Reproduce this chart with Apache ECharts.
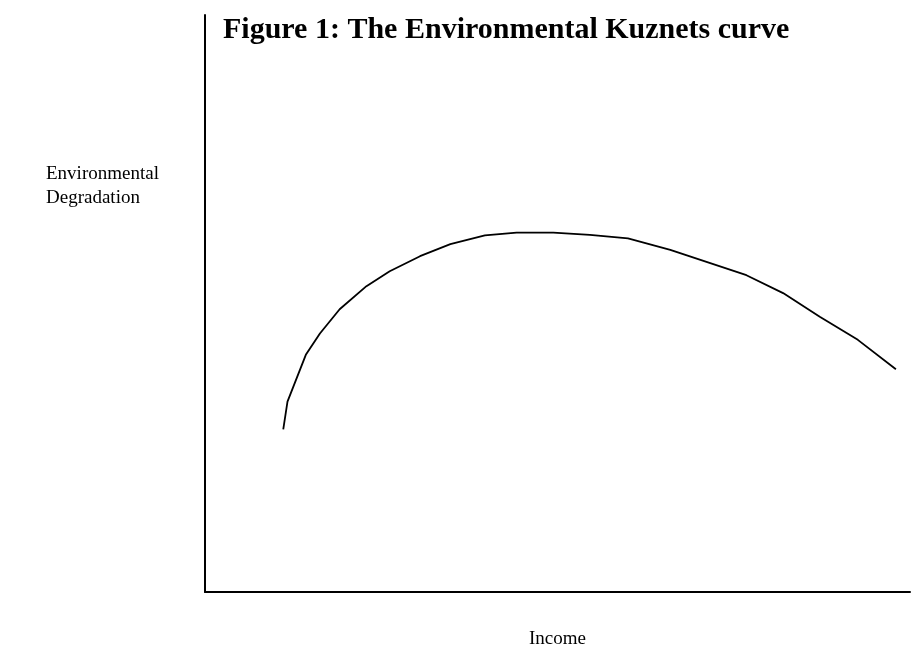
<!DOCTYPE html>
<html>
<head>
<meta charset="utf-8">
<script src="https://cdn.jsdelivr.net/npm/echarts@6/dist/echarts.min.js"></script>
<style>
  html, body { margin: 0; padding: 0; background: #fff; }
  #chart { width: 911px; height: 652px; }
</style>
</head>
<body>
<div id="chart"></div>
<script>
// income (x) and degradation (y), arbitrary 0-100 units
const income = [11.1, 11.7, 14.3, 16.3, 19.1, 22.9, 26.2, 30.5, 34.8, 39.7, 44.2, 49.4, 54.6, 60.0, 66.0, 76.8, 82.0, 87.2, 92.6, 98.0];
const degradation = [28.2, 33.0, 41.1, 44.8, 49.0, 53.0, 55.6, 58.2, 60.3, 61.8, 62.3, 62.3, 61.9, 61.3, 59.3, 54.9, 51.8, 47.7, 43.7, 38.6];

const titleText = 'Figure 1: The Environmental Kuznets curve';
const yName = 'Environmental\nDegradation';
const xName = 'Income';

let myChart = echarts.init(document.getElementById('chart'));
const serif = '"Liberation Serif", "DejaVu Serif", serif';

myChart.setOption({
    animation: false,
    backgroundColor: '#fff',
    title: {
        text: titleText,
        left: 218,
        top: 10,
        textStyle: { fontFamily: serif, fontSize: 30, fontWeight: 'bold', color: '#000' }
    },
    grid: { left: 205, right: 1, top: 15, bottom: 60 },
    xAxis: {
        type: 'value',
        min: 0,
        max: 100,
        axisLine: { show: true, lineStyle: { color: '#000', width: 2 } },
        axisTick: { show: false },
        axisLabel: { show: false },
        splitLine: { show: false }
    },
    yAxis: {
        type: 'value',
        min: 0,
        max: 100,
        axisLine: { show: true, lineStyle: { color: '#000', width: 2 } },
        axisTick: { show: false },
        axisLabel: { show: false },
        splitLine: { show: false }
    },
    graphic: [
        {
            type: 'text',
            left: 46,
            top: 162,
            style: { text: yName, font: '19px ' + serif, fill: '#000', lineHeight: 24 }
        },
        {
            type: 'text',
            left: 529,
            top: 630,
            style: { text: xName, font: '19px ' + serif, fill: '#000' }
        }
    ],
    series: [
        {
            type: 'line',
            data: income.map((x, i) => [x, degradation[i]]),
            showSymbol: false,
            smooth: false,
            lineStyle: { color: '#000', width: 1.8 }
        }
    ]
});
window.onresize = function () { myChart.resize(); };
</script>
</body>
</html>
